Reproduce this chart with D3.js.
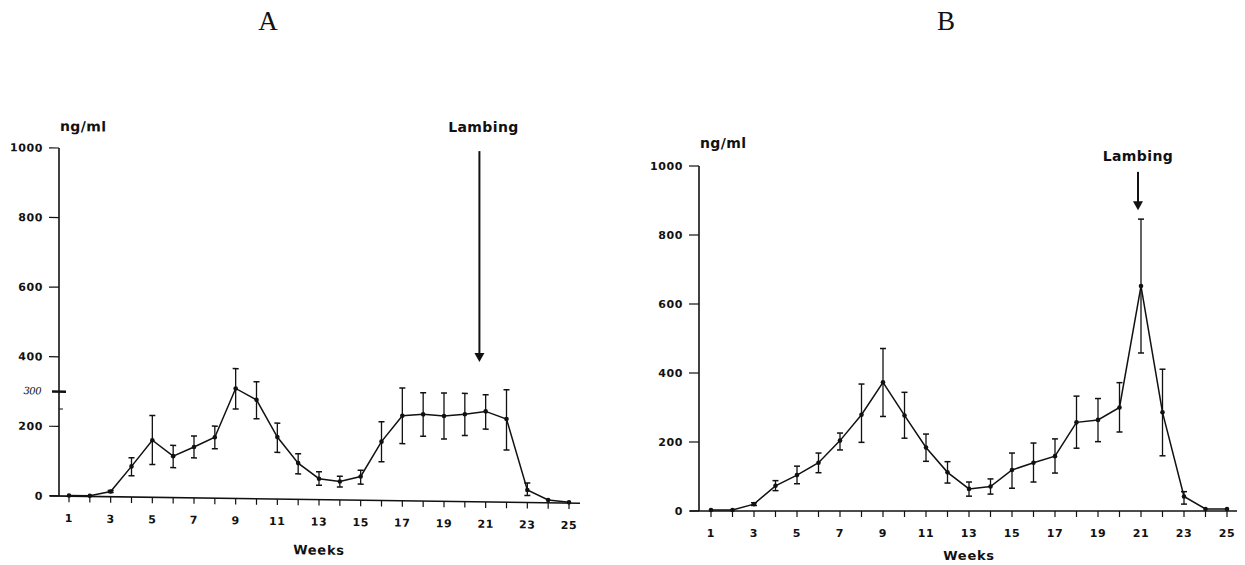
<!DOCTYPE html>
<html>
<head>
<meta charset="utf-8">
<script src="https://cdn.jsdelivr.net/npm/d3@7"></script>
<style>
  body { margin: 0; background: #fff; }
  text { font-family: "DejaVu Sans", sans-serif; font-weight: bold; fill: #111; }
</style>
</head>
<body>
<div id="chart"></div>
<script>
// weeks 1..25
var weeks = d3.range(1, 26)
var xTickLabels = [1, 3, 5, 7, 9, 11, 13, 15, 17, 19, 21, 23, 25]
var yTicks = [0, 200, 400, 600, 800, 1000]

// panel A: mean and error bar ends (ng/ml)
var aMean = [2, 2, 15, 88, 164, 119, 146, 175, 316, 284, 178, 104, 60, 53, 68, 169, 244, 249, 245, 251, 260, 239, 36, 8, 2]
var aLow  = [2, 2, 12, 61, 94, 86, 115, 142, 257, 230, 134, 73, 41, 37, 46, 111, 164, 186, 179, 190, 209, 150, 20, 8, 2]
var aHigh = [2, 2, 18, 113, 235, 150, 178, 207, 373, 336, 218, 131, 80, 68, 86, 226, 324, 311, 311, 311, 308, 323, 56, 8, 2]

// panel B
var bMean = [3, 3, 20, 73, 104, 140, 204, 279, 373, 277, 184, 112, 64, 71, 119, 140, 159, 257, 264, 300, 652, 286, 42, 6, 6]
var bLow  = [3, 3, 16, 59, 79, 111, 177, 199, 274, 211, 144, 81, 43, 49, 66, 84, 110, 182, 201, 229, 458, 160, 20, 6, 6]
var bHigh = [3, 3, 24, 88, 130, 168, 226, 368, 471, 344, 223, 143, 84, 93, 168, 197, 209, 333, 326, 372, 846, 411, 56, 6, 6]

var lambingWeek = [20.7, 20.86]

var svg = d3.select("#chart").append("svg")
  .attr("width", 1245)
  .attr("height", 565)

function drawPanel(p) {
  let x = d3.scaleLinear().domain([1, 25]).range(p.xRange)
  let y = d3.scaleLinear().domain([0, 1000]).range(p.yRange)
  let x0 = p.axisX

  svg.append("text")
    .attr("x", p.titleX).attr("y", 30)
    .attr("text-anchor", "middle")
    .style("font-family", "'Liberation Serif', serif")
    .style("font-weight", "normal")
    .style("font-size", "27px")
    .text(p.title)

  let g = svg.append("g")
    .attr("transform", "translate(" + x0 + ",0) skewY(" + p.skew + ") translate(" + (-x0) + ",0)")

  // y axis
  g.append("line")
    .attr("x1", x0).attr("x2", x0)
    .attr("y1", y(1000)).attr("y2", y(0))
    .attr("stroke", "#111").attr("stroke-width", 1.6)
  g.selectAll(".ytick").data(yTicks).enter().append("line")
    .attr("x1", x0 - 10).attr("x2", x0)
    .attr("y1", d => y(d)).attr("y2", d => y(d))
    .attr("stroke", "#111").attr("stroke-width", 1.2)
  g.selectAll(".ylab").data(yTicks).enter().append("text")
    .attr("x", x0 - 16).attr("y", d => y(d) + 4)
    .attr("text-anchor", "end")
    .style("font-size", "11px")
    .style("letter-spacing", "0.6px")
    .text(d => d)

  // x axis
  g.append("line")
    .attr("x1", x0 - 9).attr("x2", p.axisEnd)
    .attr("y1", y(0)).attr("y2", y(0))
    .attr("stroke", "#111").attr("stroke-width", 1.6)
  g.selectAll(".xtick").data(weeks).enter().append("line")
    .attr("x1", d => x(d)).attr("x2", d => x(d))
    .attr("y1", y(0)).attr("y2", y(0) + 6)
    .attr("stroke", "#111").attr("stroke-width", 1.2)
  g.selectAll(".xlab").data(xTickLabels).enter().append("text")
    .attr("x", d => x(d)).attr("y", y(0) + 26)
    .attr("text-anchor", "middle")
    .style("font-size", "11px")
    .style("letter-spacing", "0.6px")
    .text(d => d)

  let pts = weeks.map((w, i) => ({ w: w, m: p.mean[i], lo: p.low[i], hi: p.high[i] }))

  // error bars
  let eb = g.selectAll(".err").data(pts.filter(d => d.hi - d.lo > 4)).enter().append("g")
  eb.append("line")
    .attr("x1", d => x(d.w)).attr("x2", d => x(d.w))
    .attr("y1", d => y(d.lo)).attr("y2", d => y(d.hi))
    .attr("stroke", "#111").attr("stroke-width", 1.3)
  eb.append("line")
    .attr("x1", d => x(d.w) - 3).attr("x2", d => x(d.w) + 3)
    .attr("y1", d => y(d.hi)).attr("y2", d => y(d.hi))
    .attr("stroke", "#111").attr("stroke-width", 1.5)
  eb.append("line")
    .attr("x1", d => x(d.w) - 3).attr("x2", d => x(d.w) + 3)
    .attr("y1", d => y(d.lo)).attr("y2", d => y(d.lo))
    .attr("stroke", "#111").attr("stroke-width", 1.5)

  // mean line + dots
  g.append("path")
    .datum(pts)
    .attr("fill", "none")
    .attr("stroke", "#111").attr("stroke-width", 1.5)
    .attr("d", d3.line().x(d => x(d.w)).y(d => y(d.m)))
  g.selectAll(".dot").data(pts).enter().append("circle")
    .attr("cx", d => x(d.w)).attr("cy", d => y(d.m))
    .attr("r", 2.3).attr("fill", "#111")

  g.append("text")
    .attr("x", x0 + 1).attr("y", p.unitY)
    .style("font-size", "14px")
    .style("letter-spacing", "0.4px")
    .text("ng/ml")

  g.append("text")
    .attr("x", x(13)).attr("y", y(0) + p.weeksDy)
    .attr("text-anchor", "middle")
    .style("font-size", "13px")
    .style("letter-spacing", "0.7px")
    .text("Weeks")

  // lambing arrow (outside skew)
  let ax = x(p.lambing)
  svg.append("text")
    .attr("x", ax + p.labelDx).attr("y", p.labelY)
    .attr("text-anchor", "middle")
    .style("font-size", "14px")
    .style("letter-spacing", "0.4px")
    .text("Lambing")
  svg.append("line")
    .attr("x1", ax).attr("x2", ax)
    .attr("y1", y(p.arrow[0])).attr("y2", y(p.arrow[1]) - 7)
    .attr("stroke", "#111").attr("stroke-width", 2)
  svg.append("path")
    .attr("d", "M" + (ax - 5) + "," + (y(p.arrow[1]) - 9) + "L" + (ax + 5) + "," + (y(p.arrow[1]) - 9) + "L" + ax + "," + y(p.arrow[1]) + "Z")
    .attr("fill", "#111")

  return { g: g, x: x, y: y }
}

var A = drawPanel({
  title: "A", titleX: 268, skew: 0.79,
  xRange: [69, 569], yRange: [496, 148], axisX: 59, axisEnd: 580,
  mean: aMean, low: aLow, high: aHigh,
  lambing: lambingWeek[0], arrow: [991, 385], labelY: 132, labelDx: 4,
  unitY: 131, weeksDy: 55
})

// hand-marked 300 on the A axis
A.g.append("line")
  .attr("x1", 52).attr("x2", 66)
  .attr("y1", A.y(300)).attr("y2", A.y(300))
  .attr("stroke", "#111").attr("stroke-width", 2.6)
A.g.append("line")
  .attr("x1", 59).attr("x2", 63)
  .attr("y1", A.y(250)).attr("y2", A.y(250))
  .attr("stroke", "#111").attr("stroke-width", 1)
A.g.append("text")
  .attr("x", 41).attr("y", A.y(300) + 3)
  .attr("text-anchor", "end")
  .style("font-family", "'DejaVu Serif', serif")
  .style("font-style", "italic")
  .style("font-weight", "normal")
  .style("font-size", "10px")
  .style("letter-spacing", "-0.5px")
  .text("300")

drawPanel({
  title: "B", titleX: 946, skew: 0,
  xRange: [711, 1227], yRange: [511, 166], axisX: 699, axisEnd: 1237,
  mean: bMean, low: bLow, high: bHigh,
  lambing: lambingWeek[1], arrow: [983, 872], labelY: 161, labelDx: 0,
  unitY: 148, weeksDy: 49
})
</script>
</body>
</html>
